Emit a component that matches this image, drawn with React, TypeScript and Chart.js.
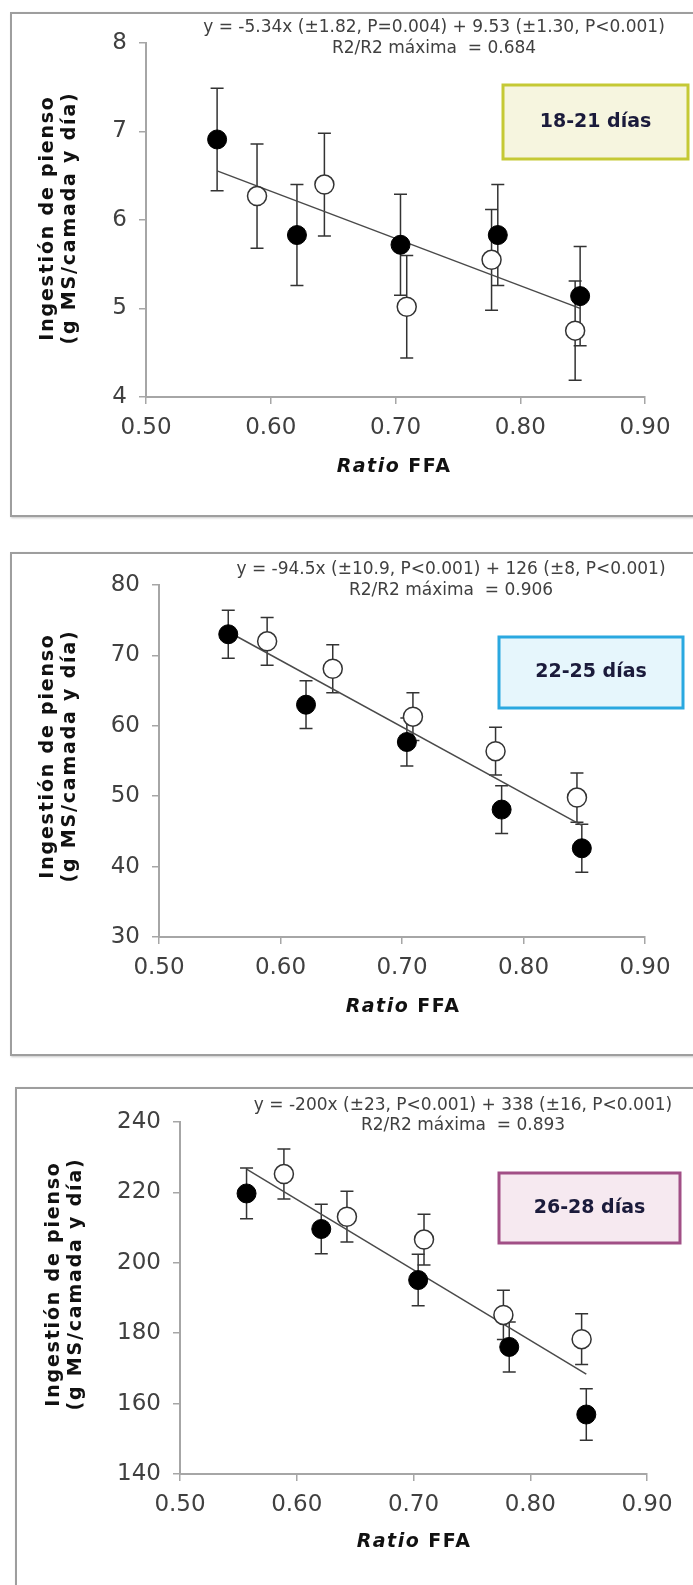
import React, { useEffect, useRef } from 'react';
import { Chart, registerables } from 'chart.js';

Chart.register(...registerables);

// ---------- data ----------
const X_TICKS = [0.5, 0.6, 0.7, 0.8, 0.9];
const X_FILLED = [0.557, 0.621, 0.704, 0.782, 0.848];
const X_OPEN = [0.589, 0.643, 0.709, 0.777, 0.844];
const Y_TITLE = ['Ingestión de pienso', '(g MS/camada y día)'];
const X_TITLE = ['Ratio', 'FFA'];

const P1_Y_TICKS = [4, 5, 6, 7, 8];
const P1_FILLED = [6.91, 5.83, 5.72, 5.83, 5.14];
const P1_FILLED_ERR = [0.58, 0.57, 0.57, 0.57, 0.56];
const P1_OPEN = [6.27, 6.4, 5.02, 5.55, 4.75];
const P1_OPEN_ERR = [0.59, 0.58, 0.58, 0.57, 0.56];
const P1_FIT = [-5.34, 9.53];
const P1_EQ = ['y = -5.34x (±1.82, P=0.004) + 9.53 (±1.30, P<0.001)', 'R2/R2 máxima  = 0.684'];
const P1_LABEL = '18-21 días';

const P2_Y_TICKS = [30, 40, 50, 60, 70, 80];
const P2_FILLED = [73.0, 63.0, 57.7, 48.1, 42.6];
const P2_FILLED_ERR = [3.4, 3.4, 3.4, 3.4, 3.4];
const P2_OPEN = [72.0, 68.1, 61.3, 56.4, 49.8];
const P2_OPEN_ERR = [3.4, 3.4, 3.4, 3.4, 3.5];
const P2_FIT = [-94.5, 126];
const P2_EQ = ['y = -94.5x (±10.9, P<0.001) + 126 (±8, P<0.001)', 'R2/R2 máxima  = 0.906'];
const P2_LABEL = '22-25 días';

const P3_Y_TICKS = [140, 160, 180, 200, 220, 240];
const P3_FILLED = [219.7, 209.6, 195.1, 176.1, 156.9];
const P3_FILLED_ERR = [7.2, 7.0, 7.3, 7.1, 7.3];
const P3_OPEN = [225.2, 213.1, 206.6, 185.2, 178.3];
const P3_OPEN_ERR = [7.1, 7.2, 7.2, 7.0, 7.2];
const P3_FIT = [-200, 338];
const P3_EQ = ['y = -200x (±23, P<0.001) + 338 (±16, P<0.001)', 'R2/R2 máxima  = 0.893'];
const P3_LABEL = '26-28 días';

// ---------- layout / style ----------
const W = 693;
const FONT = "'DejaVu Sans', sans-serif";

type Layout = {
  top: number; height: number; borderLeft: number; borderHeight: number;
  area: { left: number; right: number; top: number; bottom: number };
  eq: [number, number, number]; // cx, y1, y2
  box: { l: number; t: number; r: number; b: number; fill: string; stroke: string };
  xTitle: [number, number];
  yTitle: [number, number, number]; // x1, x2, cy
};

const PANELS = [
  {
    yTicks: P1_Y_TICKS, filled: P1_FILLED, filledErr: P1_FILLED_ERR, open: P1_OPEN, openErr: P1_OPEN_ERR,
    fit: P1_FIT, eq: P1_EQ, label: P1_LABEL,
    layout: {
      top: 12, height: 505, borderLeft: 10, borderHeight: 505,
      area: { left: 146, right: 645, top: 43, bottom: 397 },
      eq: [434, 28, 49],
      box: { l: 503, t: 85, r: 688, b: 159, fill: '#f6f5df', stroke: '#c5c935' },
      xTitle: [394, 467],
      yTitle: [48, 70, 218],
    } as Layout,
  },
  {
    yTicks: P2_Y_TICKS, filled: P2_FILLED, filledErr: P2_FILLED_ERR, open: P2_OPEN, openErr: P2_OPEN_ERR,
    fit: P2_FIT, eq: P2_EQ, label: P2_LABEL,
    layout: {
      top: 552, height: 504, borderLeft: 10, borderHeight: 504,
      area: { left: 159, right: 645, top: 585, bottom: 937 },
      eq: [451, 570, 591],
      box: { l: 499, t: 637, r: 683, b: 708, fill: '#e6f6fc', stroke: '#2aa8e0' },
      xTitle: [403, 1007],
      yTitle: [48, 70, 756],
    } as Layout,
  },
  {
    yTicks: P3_Y_TICKS, filled: P3_FILLED, filledErr: P3_FILLED_ERR, open: P3_OPEN, openErr: P3_OPEN_ERR,
    fit: P3_FIT, eq: P3_EQ, label: P3_LABEL,
    layout: {
      top: 1087, height: 498, borderLeft: 15, borderHeight: 600,
      area: { left: 180, right: 647, top: 1122, bottom: 1474 },
      eq: [463, 1106, 1126],
      box: { l: 499, t: 1173, r: 680, b: 1243, fill: '#f6e9f0', stroke: '#a14f86' },
      xTitle: [414, 1542],
      yTitle: [54, 76, 1284],
    } as Layout,
  },
];

function Panel({ p }: { p: (typeof PANELS)[number] }) {
  const ref = useRef<HTMLCanvasElement>(null);
  const L = p.layout;
  useEffect(() => {
    const canvas = ref.current!;
    const H = L.height;
    const off = L.top;
    const allX = [...X_FILLED, ...X_OPEN];
    const xmin = Math.min(...allX);
    const xmax = Math.max(...allX);

    const annot = {
      id: 'annot',
      beforeDatasetsDraw(chart: any) {
        const ctx = chart.ctx as CanvasRenderingContext2D;
        const xs = chart.scales.x;
        const ys = chart.scales.y;
        ctx.save();
        ctx.strokeStyle = '#333';
        ctx.lineWidth = 1.5;
        const series: [number[], number[], number[]][] = [
          [X_FILLED, p.filled, p.filledErr],
          [X_OPEN, p.open, p.openErr],
        ];
        for (const [xv, yv, ev] of series) {
          for (let i = 0; i < xv.length; i++) {
            const px = xs.getPixelForValue(xv[i]);
            const t = ys.getPixelForValue(yv[i] + ev[i]);
            const b = ys.getPixelForValue(yv[i] - ev[i]);
            ctx.beginPath();
            ctx.moveTo(px, t);
            ctx.lineTo(px, b);
            ctx.moveTo(px - 6.5, t);
            ctx.lineTo(px + 6.5, t);
            ctx.moveTo(px - 6.5, b);
            ctx.lineTo(px + 6.5, b);
            ctx.stroke();
          }
        }
        ctx.restore();
      },
      afterDraw(chart: any) {
        const ctx = chart.ctx as CanvasRenderingContext2D;
        ctx.save();
        // equation
        ctx.fillStyle = '#404040';
        ctx.font = `17px ${FONT}`;
        ctx.textAlign = 'center';
        ctx.textBaseline = 'middle';
        (ctx as any).letterSpacing = '0px';
        ctx.fillText(p.eq[0], L.eq[0], L.eq[1] - off, 480);
        ctx.fillText(p.eq[1], L.eq[0], L.eq[2] - off);
        // label box
        const bx = L.box;
        ctx.fillStyle = bx.fill;
        ctx.fillRect(bx.l, bx.t - off, bx.r - bx.l, bx.b - bx.t);
        ctx.strokeStyle = bx.stroke;
        ctx.lineWidth = 3;
        ctx.strokeRect(bx.l, bx.t - off, bx.r - bx.l, bx.b - bx.t);
        ctx.fillStyle = '#1b1b3b';
        ctx.font = `bold 19px ${FONT}`;
        ctx.fillText(p.label, (bx.l + bx.r) / 2, (bx.t + bx.b) / 2 - off);
        // x title
        ctx.fillStyle = '#111';
        (ctx as any).letterSpacing = '1.5px';
        ctx.font = `italic bold 19px ${FONT}`;
        const w1 = ctx.measureText(X_TITLE[0] + ' ').width;
        ctx.font = `bold 19px ${FONT}`;
        const w2 = ctx.measureText(X_TITLE[1]).width;
        const sx = L.xTitle[0] - (w1 + w2) / 2;
        ctx.textAlign = 'left';
        ctx.font = `italic bold 19px ${FONT}`;
        ctx.fillText(X_TITLE[0] + ' ', sx, L.xTitle[1] - off);
        ctx.font = `bold 19px ${FONT}`;
        ctx.fillText(X_TITLE[1], sx + w1, L.xTitle[1] - off);
        // y title
        ctx.textAlign = 'center';
        (ctx as any).letterSpacing = '1.8px';
        for (let k = 0; k < 2; k++) {
          ctx.save();
          ctx.translate(L.yTitle[k], L.yTitle[2] - off);
          ctx.rotate(-Math.PI / 2);
          ctx.fillText(Y_TITLE[k], 0, 0);
          ctx.restore();
        }
        ctx.restore();
      },
    };

    const axisColor = '#a6a6a6';
    const chart = new Chart(canvas, {
      type: 'scatter',
      data: {
        datasets: [
          {
            type: 'line',
            data: [
              { x: xmin, y: p.fit[0] * xmin + p.fit[1] },
              { x: xmax, y: p.fit[0] * xmax + p.fit[1] },
            ],
            borderColor: '#4a4a4a',
            borderWidth: 1.5,
            pointRadius: 0,
            showLine: true,
            fill: false,
            order: 3,
          } as any,
          {
            data: X_OPEN.map((x, i) => ({ x, y: p.open[i] })),
            backgroundColor: '#ffffff',
            borderColor: '#333',
            borderWidth: 1.5,
            pointRadius: 9.5,
            order: 1,
          },
          {
            data: X_FILLED.map((x, i) => ({ x, y: p.filled[i] })),
            backgroundColor: '#000',
            borderColor: '#000',
            borderWidth: 1,
            pointRadius: 9.5,
            order: 0,
          },
        ],
      },
      options: {
        responsive: false,
        maintainAspectRatio: false,
        animation: false,
        devicePixelRatio: 1,
        layout: {
          padding: { left: 0, top: L.area.top - off, right: W - L.area.right, bottom: 0 },
        },
        plugins: { legend: { display: false }, tooltip: { enabled: false } },
        scales: {
          x: {
            type: 'linear',
            position: 'bottom',
            min: X_TICKS[0],
            max: X_TICKS[X_TICKS.length - 1],
            afterBuildTicks: (s: any) => { s.ticks = X_TICKS.map((v) => ({ value: v })); },
            afterFit: (s: any) => { s.height = H - (L.area.bottom - off); },
            ticks: {
              callback: (v: any) => Number(v).toFixed(2),
              font: { family: FONT, size: 23 },
              color: '#404040',
              padding: 10,
              autoSkip: false,
              maxRotation: 0,
            },
            grid: { display: true, drawOnChartArea: false, drawTicks: true, tickLength: 7, color: axisColor, lineWidth: 1.5 },
            border: { display: true, color: axisColor, width: 2 },
          },
          y: {
            type: 'linear',
            min: p.yTicks[0],
            max: p.yTicks[p.yTicks.length - 1],
            afterBuildTicks: (s: any) => { s.ticks = p.yTicks.map((v) => ({ value: v })); },
            afterFit: (s: any) => { s.width = L.area.left; },
            ticks: {
              callback: (v: any) => String(v),
              font: { family: FONT, size: 23 },
              color: '#404040',
              padding: 12,
              autoSkip: false,
            },
            grid: { display: true, drawOnChartArea: false, drawTicks: true, tickLength: 7, color: axisColor, lineWidth: 1.5 },
            border: { display: true, color: axisColor, width: 2 },
          },
        },
      },
      plugins: [annot],
    });
    return () => chart.destroy();
  }, []);
  return (
    <>
      <div
        style={{
          position: 'absolute', left: L.borderLeft, top: L.top, width: 760, height: L.borderHeight,
          border: '2px solid #9e9e9e', boxSizing: 'border-box', boxShadow: '1px 1px 2px #c8c8c8',
        }}
      />
      <canvas
        ref={ref}
        width={W}
        height={L.height}
        style={{ position: 'absolute', left: 0, top: L.top, width: W, height: L.height }}
      />
    </>
  );
}

export default function App() {
  return (
    <div style={{ position: 'absolute', left: 0, top: 0, width: W, height: 1585, overflow: 'hidden', background: '#fff' }}>
      {PANELS.map((p, i) => (
        <Panel key={i} p={p} />
      ))}
    </div>
  );
}
